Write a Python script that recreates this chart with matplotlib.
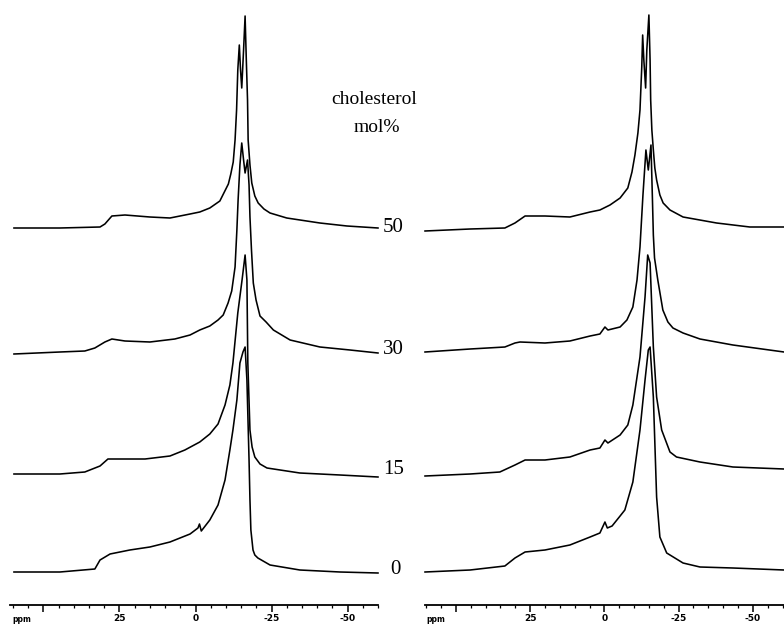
import matplotlib
matplotlib.use("Agg")
import matplotlib.pyplot as plt
from matplotlib.ticker import MultipleLocator, FixedLocator

# ---------------- data ----------------
cholesterol = [50, 30, 15, 0]          # mol%
tick_values = [50, 25, 0, -25, -50]
tick_labels = ["", "25", "0", "-25", "-50"]

# left panel spectra: chemical shift (ppm) and intensity (a.u.)
L50_ppm = [59.7, 44.6, 31.4, 29.8, 27.5, 23.2, 15.0, 8.4, 1.8, -1.4, -4.7, -8.0, -10.8, -11.6, -12.4,
           -13.0, -13.5, -13.9, -14.4, -14.8, -15.2, -15.8, -16.3, -16.7, -17.1, -17.3, -17.9, -18.5,
           -19.5, -20.6, -22.5, -24.5, -30.0, -40.9, -49.8, -60.0]
L50_int = [0, 0, 1, 4, 12, 13, 11, 10, 14, 16, 20, 27, 44, 54, 66,
           88, 118, 158, 183, 158, 140, 178, 212, 168, 128, 88, 63, 45,
           32, 25, 19, 15, 10, 5, 2, 0]

L30_ppm = [59.7, 44.6, 36.4, 33.1, 29.8, 27.5, 23.2, 15.0, 6.8, 1.8, -1.4, -4.7, -7.4, -9.1, -10.7,
           -11.9, -13.0, -13.6, -14.0, -14.6, -15.2, -15.8, -16.3, -17.1, -17.6, -17.9, -18.4, -19.0,
           -19.9, -21.2, -23.2, -25.6, -31.1, -40.9, -50.8, -60.0]
L30_int = [-1, 1, 2, 5, 11, 14, 12, 11, 14, 18, 23, 27, 33, 38, 50,
           62, 86, 123, 153, 188, 210, 193, 180, 193, 168, 136, 103, 70,
           53, 37, 31, 23, 13, 6, 3, 0]

L15_ppm = [59.7, 44.6, 36.4, 31.4, 28.8, 23.2, 16.6, 8.4, 3.5, -1.4, -4.7, -7.4, -9.7, -11.3, -12.3,
           -13.9, -15.3, -16.3, -16.9, -17.2, -17.9, -18.6, -19.5, -21.2, -23.5, -34.3, -47.5, -60.0]
L15_int = [1, 1, 3, 9, 16, 16, 16, 19, 25, 33, 41, 51, 70, 90, 112,
           162, 195, 220, 195, 112, 45, 28, 18, 11, 7, 2, 0, -2]

L0_ppm = [59.7, 44.6, 33.1, 31.4, 28.1, 21.6, 15.0, 8.4, 1.8, -0.8, -1.3, -1.9, -4.7, -7.4, -9.7,
          -11.3, -12.3, -13.6, -14.6, -15.6, -16.3, -16.9, -17.6, -17.9, -18.2, -18.9, -19.5, -20.5,
          -24.5, -34.3, -47.5, -60.0]
L0_int = [1, 1, 4, 13, 19, 23, 26, 31, 39, 45, 49, 42, 53, 68, 93,
          123, 143, 173, 210, 221, 226, 193, 113, 73, 43, 23, 18, 15,
          8, 3, 1, 0]

# right panel spectra
R50_ppm = [60.4, 45.2, 33.5, 30.1, 26.7, 20.0, 11.6, 4.8, 1.5, -1.9, -5.3, -7.9, -9.3, -10.3, -11.3,
           -12.0, -12.6, -12.9, -13.3, -13.9, -14.3, -15.0, -15.4, -15.6, -16.0, -16.5, -17.0, -17.6,
           -18.7, -19.8, -22.1, -26.5, -37.8, -49.0, -60.5]
R50_int = [-2, 0, 1, 6, 13, 13, 12, 17, 19, 24, 31, 41, 57, 74, 96,
           119, 162, 194, 169, 141, 179, 214, 169, 129, 99, 79, 61, 49,
           34, 26, 19, 12, 6, 2, 2]

R30_ppm = [60.4, 45.2, 33.5, 30.1, 28.4, 20.0, 11.6, 4.8, 1.5, -0.2, -1.2, -5.3, -7.6, -9.6, -11.0,
           -12.0, -13.0, -14.0, -14.8, -15.7, -16.2, -16.5, -16.9, -18.0, -19.7, -21.4, -23.1, -26.5,
           -32.2, -43.3, -60.5]
R30_int = [0, 3, 5, 9, 10, 9, 11, 16, 18, 25, 22, 25, 32, 45, 72,
           105, 157, 202, 182, 207, 152, 117, 94, 72, 42, 30, 24, 19,
           13, 7, 0]

R15_ppm = [60.4, 45.2, 35.2, 30.1, 26.7, 20.0, 11.6, 4.8, 1.5, -0.2, -1.2, -5.3, -7.9, -9.6, -12.0,
           -13.7, -14.6, -15.4, -16.5, -17.6, -19.3, -22.1, -24.3, -32.2, -43.3, -60.5]
R15_int = [-2, 0, 2, 9, 14, 14, 17, 24, 26, 34, 31, 39, 49, 69, 117,
           177, 219, 211, 127, 77, 44, 22, 17, 12, 7, 5]

R0_ppm = [60.4, 45.2, 33.5, 30.1, 26.7, 20.0, 11.6, 4.8, 1.5, -0.2, -1.0, -2.6, -5.3, -6.9, -9.6,
          -12.0, -13.7, -14.8, -15.4, -16.5, -17.6, -18.7, -21.0, -26.5, -32.2, -43.3, -60.5]
R0_int = [0, 2, 6, 14, 20, 22, 27, 35, 39, 50, 44, 46, 56, 62, 90,
          142, 192, 222, 225, 175, 75, 35, 19, 9, 5, 4, 2]

left_spectra = [(L50_ppm, L50_int), (L30_ppm, L30_int), (L15_ppm, L15_int), (L0_ppm, L0_int)]
right_spectra = [(R50_ppm, R50_int), (R30_ppm, R30_int), (R15_ppm, R15_int), (R0_ppm, R0_int)]

# ---------------- layout ----------------
W, H = 784, 624
fig = plt.figure(figsize=(W / 100, H / 100), dpi=100)
fig.patch.set_facecolor("white")

axis_y = 605                      # pixel row of the ppm axis line
left_off = [605 - 228, 605 - 353, 605 - 475, 605 - 573]
right_off = [605 - 229, 605 - 352, 605 - 474, 605 - 572]


def make_axes(x0, x1, xlim):
    ax = fig.add_axes([x0 / W, (H - axis_y) / H, (x1 - x0) / W, axis_y / H])
    ax.set_xlim(*xlim)
    ax.set_ylim(0, axis_y)
    for s in ("top", "left", "right"):
        ax.spines[s].set_visible(False)
    ax.spines["bottom"].set_linewidth(1.3)
    ax.set_yticks([])
    ax.xaxis.set_major_locator(FixedLocator(tick_values))
    ax.xaxis.set_minor_locator(MultipleLocator(5))
    ax.set_xticklabels(tick_labels, fontsize=6.5, fontweight="bold", family="DejaVu Sans")
    ax.tick_params(axis="x", which="major", direction="out", length=5, width=1.1, pad=1.5)
    ax.tick_params(axis="x", which="minor", direction="out", length=2.5, width=0.9)
    ax.patch.set_alpha(0)
    return ax


axL = make_axes(10, 378, (61.0, -60.0))
axR = make_axes(425, 784, (60.4, -60.5))

for ax, spectra, offs in ((axL, left_spectra, left_off), (axR, right_spectra, right_off)):
    for (ppm, inten), off in zip(spectra, offs):
        ax.plot(ppm, [off + v for v in inten], color="black", lw=1.15,
                solid_joinstyle="round", clip_on=False)

# "ppm" unit labels
for x in (12, 426):
    fig.text(x / W, 1 - 619 / H, "ppm", fontsize=5.5, fontweight="bold",
             family="DejaVu Sans", ha="left", va="center")

# concentration labels
serif = "Liberation Serif"
label_pos = [(383, 228), (383, 349), (383, 470), (390, 570)]
for val, (x, y) in zip(cholesterol, label_pos):
    fig.text(x / W, 1 - y / H, str(val), fontsize=15, family=serif,
             ha="left", va="center")

fig.text(374 / W, 1 - 100 / H, "cholesterol", fontsize=14, family=serif,
         ha="center", va="center")
fig.text(377 / W, 1 - 128 / H, "mol%", fontsize=14, family=serif,
         ha="center", va="center")

fig.savefig("out.png", dpi=100, facecolor="white")
